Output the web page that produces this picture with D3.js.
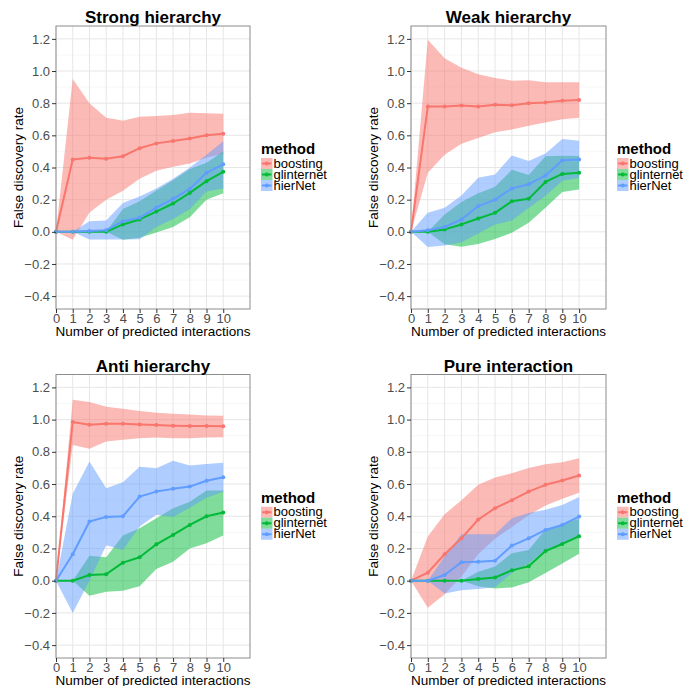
<!DOCTYPE html>
<html>
<head>
<meta charset="utf-8">
<script src="https://cdn.jsdelivr.net/npm/d3@7"></script>
<style>
  html, body { margin: 0; padding: 0; background: #fff; }
  svg { display: block; font-family: "Liberation Sans", Arial, Helvetica, sans-serif; }
</style>
</head>
<body>
<svg id="chart" width="687" height="686"></svg>
<script>
// ---------- data ----------
const nInteractions = [0, 1, 2, 3, 4, 5, 6, 7, 8, 9, 10];
const xTickLabels = ["0", "1", "2", "3", "4", "5", "6", "7", "8", "9", "10"];
const yTickValues = [-0.4, -0.2, 0.0, 0.2, 0.4, 0.6, 0.8, 1.0, 1.2];
const yTickLabels = ["\u22120.4", "\u22120.2", "0.0", "0.2", "0.4", "0.6", "0.8", "1.0", "1.2"];
const yMinorValues = [-0.3, -0.1, 0.1, 0.3, 0.5, 0.7, 0.9, 1.1];
const methods = ["boosting", "glinternet", "hierNet"];
const methodColors = ["#F8766D", "#00BA38", "#619CFF"];
const panelTitles = ["Strong hierarchy", "Weak hierarchy", "Anti hierarchy", "Pure interaction"];

// Strong hierarchy
const strongBoostingMean  = [0, 0.45, 0.46, 0.454, 0.47, 0.52, 0.55, 0.565, 0.58, 0.60, 0.61];
const strongBoostingUpper = [0, 0.95, 0.80, 0.71, 0.69, 0.715, 0.72, 0.727, 0.74, 0.738, 0.735];
const strongBoostingLower = [0, -0.05, 0.12, 0.20, 0.255, 0.33, 0.38, 0.405, 0.425, 0.46, 0.485];
const strongGlinternetMean  = [0, 0, 0, 0, 0.046, 0.077, 0.126, 0.176, 0.242, 0.315, 0.373];
const strongGlinternetUpper = [0, 0, 0, 0, 0.142, 0.19, 0.257, 0.32, 0.39, 0.43, 0.50];
const strongGlinternetLower = [0, 0, 0, 0, -0.05, -0.037, -0.005, 0.03, 0.09, 0.20, 0.24];
const strongHierNetMean  = [0, 0, 0.005, 0.01, 0.066, 0.087, 0.15, 0.205, 0.267, 0.367, 0.42];
const strongHierNetUpper = [0, 0, 0.066, 0.07, 0.18, 0.22, 0.27, 0.33, 0.40, 0.48, 0.564];
const strongHierNetLower = [0, 0, -0.048, -0.048, -0.048, -0.046, 0.03, 0.08, 0.14, 0.25, 0.27];

// Weak hierarchy
const weakBoostingMean  = [0, 0.78, 0.78, 0.785, 0.78, 0.79, 0.787, 0.80, 0.805, 0.815, 0.82];
const weakBoostingUpper = [0, 1.195, 1.08, 1.02, 0.98, 0.957, 0.94, 0.943, 0.93, 0.93, 0.93];
const weakBoostingLower = [0, 0.367, 0.48, 0.547, 0.584, 0.62, 0.636, 0.66, 0.68, 0.70, 0.71];
const weakGlinternetMean  = [0, 0, 0.015, 0.046, 0.083, 0.118, 0.19, 0.205, 0.31, 0.36, 0.367];
const weakGlinternetUpper = [0, 0, 0.107, 0.185, 0.24, 0.28, 0.386, 0.354, 0.47, 0.473, 0.471];
const weakGlinternetLower = [0, 0, -0.077, -0.093, -0.075, -0.044, -0.006, 0.056, 0.15, 0.247, 0.263];
const weakHierNetMean  = [0, 0.01, 0.03, 0.077, 0.16, 0.20, 0.27, 0.296, 0.35, 0.445, 0.45];
const weakHierNetUpper = [0, 0.118, 0.15, 0.226, 0.336, 0.356, 0.475, 0.44, 0.487, 0.578, 0.566];
const weakHierNetLower = [0, -0.095, -0.085, -0.065, -0.01, 0.045, 0.07, 0.148, 0.225, 0.318, 0.335];

// Anti hierarchy
const antiBoostingMean  = [0, 0.985, 0.968, 0.974, 0.974, 0.97, 0.966, 0.962, 0.96, 0.96, 0.958];
const antiBoostingUpper = [0, 1.123, 1.109, 1.08, 1.067, 1.053, 1.042, 1.036, 1.032, 1.026, 1.024];
const antiBoostingLower = [0, 0.843, 0.819, 0.864, 0.875, 0.885, 0.889, 0.885, 0.885, 0.889, 0.891];
const antiGlinternetMean  = [0, 0, 0.035, 0.04, 0.112, 0.145, 0.226, 0.284, 0.346, 0.40, 0.423];
const antiGlinternetUpper = [0, 0, 0.155, 0.145, 0.28, 0.325, 0.388, 0.45, 0.49, 0.56, 0.56];
const antiGlinternetLower = [0, 0, -0.093, -0.068, -0.062, -0.035, 0.073, 0.118, 0.20, 0.232, 0.28];
const antiHierNetMean  = [0, 0.164, 0.367, 0.396, 0.40, 0.522, 0.553, 0.57, 0.584, 0.62, 0.642];
const antiHierNetUpper = [0, 0.54, 0.74, 0.574, 0.611, 0.707, 0.698, 0.744, 0.715, 0.725, 0.732];
const antiHierNetLower = [0, -0.20, 0.0, 0.22, 0.19, 0.337, 0.41, 0.396, 0.453, 0.515, 0.552];

// Pure interaction
const pureBoostingMean  = [0, 0.05, 0.164, 0.263, 0.38, 0.45, 0.50, 0.553, 0.595, 0.622, 0.653];
const pureBoostingUpper = [0, 0.274, 0.412, 0.50, 0.595, 0.64, 0.667, 0.70, 0.723, 0.736, 0.76];
const pureBoostingLower = [0, -0.168, -0.085, 0.026, 0.165, 0.26, 0.333, 0.406, 0.467, 0.508, 0.546];
const pureGlinternetMean  = [0, 0, 0, 0, 0.01, 0.02, 0.064, 0.09, 0.184, 0.228, 0.276];
const pureGlinternetUpper = [0, 0, 0, 0, 0.055, 0.088, 0.17, 0.19, 0.32, 0.35, 0.385];
const pureGlinternetLower = [0, 0, 0, 0, -0.035, -0.048, -0.042, -0.01, 0.048, 0.106, 0.167];
const pureHierNetMean  = [0, 0, 0.035, 0.114, 0.118, 0.124, 0.218, 0.263, 0.315, 0.346, 0.398];
const pureHierNetUpper = [0, 0, 0.15, 0.288, 0.288, 0.288, 0.388, 0.42, 0.44, 0.47, 0.52];
const pureHierNetLower = [0, 0, -0.08, -0.06, -0.052, -0.04, 0.048, 0.106, 0.19, 0.222, 0.276];

// table built from the arrays
const panelSeries = [
  [[strongBoostingMean, strongBoostingLower, strongBoostingUpper],
   [strongGlinternetMean, strongGlinternetLower, strongGlinternetUpper],
   [strongHierNetMean, strongHierNetLower, strongHierNetUpper]],
  [[weakBoostingMean, weakBoostingLower, weakBoostingUpper],
   [weakGlinternetMean, weakGlinternetLower, weakGlinternetUpper],
   [weakHierNetMean, weakHierNetLower, weakHierNetUpper]],
  [[antiBoostingMean, antiBoostingLower, antiBoostingUpper],
   [antiGlinternetMean, antiGlinternetLower, antiGlinternetUpper],
   [antiHierNetMean, antiHierNetLower, antiHierNetUpper]],
  [[pureBoostingMean, pureBoostingLower, pureBoostingUpper],
   [pureGlinternetMean, pureGlinternetLower, pureGlinternetUpper],
   [pureHierNetMean, pureHierNetLower, pureHierNetUpper]]
];

// ---------- layout ----------
const svg = d3.select("#chart");
const panelBoxes = [
  {left: 56, right: 250, top: 26, bottom: 309},
  {left: 411, right: 606, top: 26, bottom: 309},
  {left: 56, right: 250, top: 374.5, bottom: 658},
  {left: 411, right: 606, top: 374.5, bottom: 658}
];

function drawPanel(pi) {
  const box = panelBoxes[pi];
  const x = d3.scaleLinear().domain([0, 11.6]).range([box.left, box.right]);
  const y = d3.scaleLinear().domain([-0.48, 1.28]).range([box.bottom, box.top]);
  const g = svg.append("g");

  // background
  g.append("rect").attr("x", box.left).attr("y", box.top)
    .attr("width", box.right - box.left).attr("height", box.bottom - box.top)
    .attr("fill", "#fff");

  // minor grid
  g.selectAll(".ymin").data(yMinorValues).enter().append("line")
    .attr("x1", box.left).attr("x2", box.right)
    .attr("y1", d => y(d)).attr("y2", d => y(d))
    .attr("stroke", "#F2F2F2").attr("stroke-width", 0.6);
  // major grid
  g.selectAll(".ymaj").data(yTickValues).enter().append("line")
    .attr("x1", box.left).attr("x2", box.right)
    .attr("y1", d => y(d)).attr("y2", d => y(d))
    .attr("stroke", "#E6E6E6").attr("stroke-width", 1);
  g.selectAll(".xmaj").data(nInteractions).enter().append("line")
    .attr("y1", box.top).attr("y2", box.bottom)
    .attr("x1", d => x(d)).attr("x2", d => x(d))
    .attr("stroke", "#E6E6E6").attr("stroke-width", 1);

  const series = panelSeries[pi];
  // ribbons
  series.forEach((s, mi) => {
    const pts = nInteractions.map((n, i) => ({n, lo: s[1][i], hi: s[2][i]}));
    const area = d3.area().x(d => x(d.n)).y0(d => y(d.lo)).y1(d => y(d.hi));
    g.append("path").attr("d", area(pts))
      .attr("fill", methodColors[mi]).attr("fill-opacity", 0.5);
  });
  // lines
  series.forEach((s, mi) => {
    const pts = nInteractions.map((n, i) => ({n, v: s[0][i]}));
    const line = d3.line().x(d => x(d.n)).y(d => y(d.v));
    g.append("path").attr("d", line(pts))
      .attr("fill", "none").attr("stroke", methodColors[mi])
      .attr("stroke-width", 2).attr("stroke-linejoin", "round");
  });
  // points
  series.forEach((s, mi) => {
    g.selectAll(".pt" + mi).data(nInteractions).enter().append("circle")
      .attr("cx", d => x(d)).attr("cy", (d, i) => y(s[0][i]))
      .attr("r", 2).attr("fill", methodColors[mi]);
  });

  // border
  g.append("rect").attr("x", box.left).attr("y", box.top)
    .attr("width", box.right - box.left).attr("height", box.bottom - box.top)
    .attr("fill", "none").attr("stroke", "#8C8C8C").attr("stroke-width", 1);

  // y axis
  const yAxis = d3.axisLeft(y).tickValues(yTickValues)
    .tickFormat((d, i) => yTickLabels[i]).tickSize(4).tickPadding(2);
  const ya = g.append("g").attr("transform", `translate(${box.left},0)`).call(yAxis);
  ya.select(".domain").remove();
  ya.selectAll("line").attr("stroke", "#333");
  ya.selectAll("text").attr("fill", "#4D4D4D").style("font-size", "13px")
    .style("font-family", "Liberation Sans, Arial, sans-serif");

  // x axis
  const xAxis = d3.axisBottom(x).tickValues(nInteractions)
    .tickFormat((d, i) => xTickLabels[i]).tickSize(4).tickPadding(1);
  const xa = g.append("g").attr("transform", `translate(0,${box.bottom})`).call(xAxis);
  xa.select(".domain").remove();
  xa.selectAll("line").attr("stroke", "#333");
  xa.selectAll("text").attr("fill", "#4D4D4D").style("font-size", "13px")
    .style("font-family", "Liberation Sans, Arial, sans-serif");

  const cx = (box.left + box.right) / 2;
  const cy = (box.top + box.bottom) / 2;
  // title
  g.append("text").attr("x", cx).attr("y", box.top - 3)
    .attr("text-anchor", "middle").attr("font-weight", "bold")
    .attr("font-size", 17).attr("fill", "#000").text(panelTitles[pi]);
  // x title
  g.append("text").attr("x", cx).attr("y", box.bottom + 27)
    .attr("text-anchor", "middle").attr("font-size", 13.5)
    .attr("fill", "#000").text("Number of predicted interactions");
  // y title
  g.append("text").attr("transform", `translate(${box.left - 33},${cy}) rotate(-90)`)
    .attr("text-anchor", "middle").attr("font-size", 13.5)
    .attr("fill", "#000").text("False discovery rate");

  // legend
  const lx = box.right + 11;
  const ly = cy - 23;
  const lg = g.append("g");
  lg.append("text").attr("x", lx).attr("y", ly + 9.5)
    .attr("font-weight", "bold").attr("font-size", 15).attr("fill", "#000").text("method");
  methods.forEach((m, mi) => {
    const ky = ly + 13.5 + mi * 11;
    lg.append("rect").attr("x", lx).attr("y", ky).attr("width", 11.5).attr("height", 11)
      .attr("fill", methodColors[mi]).attr("fill-opacity", 0.5);
    lg.append("line").attr("x1", lx + 1).attr("x2", lx + 10.5)
      .attr("y1", ky + 5.5).attr("y2", ky + 5.5)
      .attr("stroke", methodColors[mi]).attr("stroke-width", 2);
    lg.append("circle").attr("cx", lx + 5.75).attr("cy", ky + 5.5).attr("r", 2)
      .attr("fill", methodColors[mi]);
    lg.append("text").attr("x", lx + 12.5).attr("y", ky + 9.5)
      .attr("font-size", 13).attr("fill", "#000").text(m);
  });
}

[0, 1, 2, 3].forEach(drawPanel);
</script>
</body>
</html>
